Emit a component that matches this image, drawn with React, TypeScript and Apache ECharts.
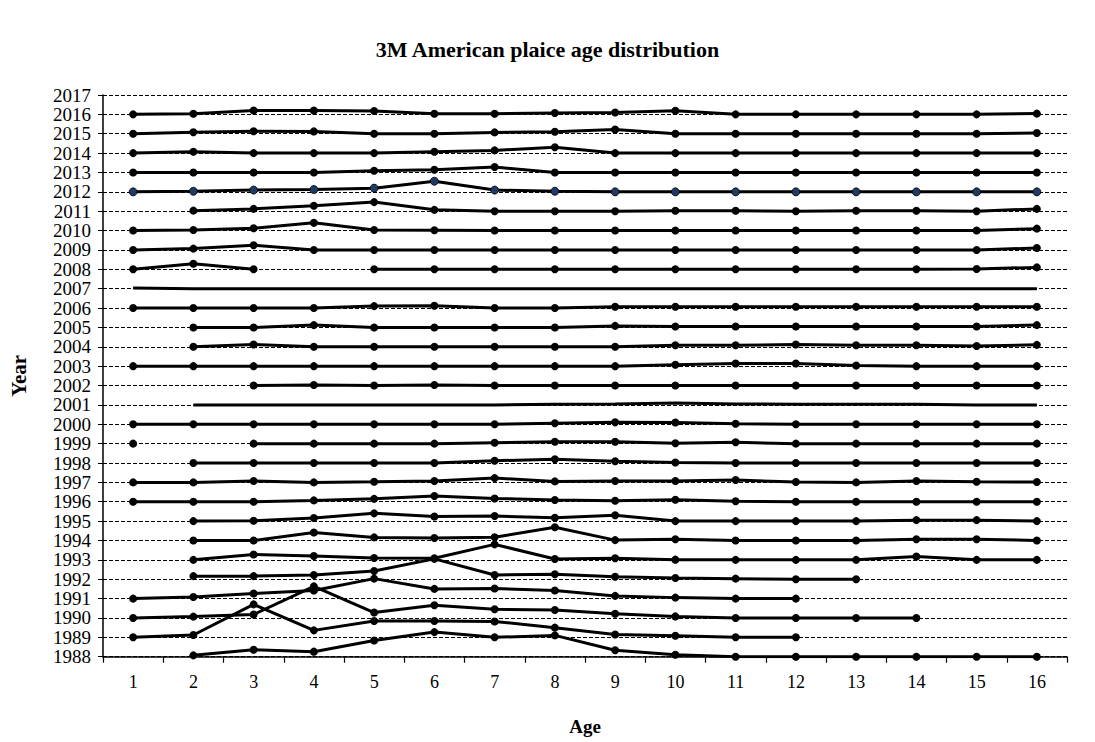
import React, { useEffect, useRef } from "react";
import * as echarts from "echarts";

const ages = ["1", "2", "3", "4", "5", "6", "7", "8", "9", "10", "11", "12", "13", "14", "15", "16"];
const yearTicks = [1988, 2017];

// plotted values (year + offset); null = no data
const y2016 = [2016, 2016.03, 2016.2, 2016.2, 2016.17, 2016.03, 2016.03, 2016.07, 2016.1, 2016.19, 2016, 2016, 2016, 2016, 2016, 2016.04];
const y2015 = [2015, 2015.08, 2015.13, 2015.12, 2015, 2015, 2015.07, 2015.1, 2015.22, 2015, 2015, 2015, 2015, 2015, 2015, 2015.04];
const y2014 = [2014, 2014.07, 2014, 2014, 2014, 2014.07, 2014.14, 2014.3, 2014, 2014, 2014, 2014, 2014, 2014, 2014, 2014];
const y2013 = [2013, 2013, 2013, 2013, 2013.09, 2013.14, 2013.28, 2013, 2013, 2013, 2013, 2013, 2013, 2013, 2013, 2013];
const y2012 = [2012, 2012.03, 2012.09, 2012.12, 2012.19, 2012.55, 2012.09, 2012.03, 2012, 2012, 2012, 2012, 2012, 2012, 2012, 2012];
const y2011 = [null, 2011.03, 2011.12, 2011.28, 2011.47, 2011.07, 2011, 2011, 2011, 2011.02, 2011.02, 2011, 2011.02, 2011.02, 2011, 2011.12];
const y2010 = [2010, 2010.03, 2010.12, 2010.4, 2010.03, 2010.02, 2010, 2010, 2010, 2010, 2010, 2010, 2010, 2010, 2010, 2010.1];
const y2009 = [2009, 2009.07, 2009.24, 2009, 2009, 2009, 2009, 2009, 2009, 2009, 2009, 2009, 2009, 2009, 2009, 2009.1];
const y2008 = [2008, 2008.29, 2008, null, 2008, 2008, 2008, 2008, 2008, 2008, 2008, 2008, 2008, 2008, 2008.02, 2008.1];
const y2007 = [2007.03, 2007, 2007, 2007, 2007, 2007, 2007, 2007, 2007, 2007, 2007, 2007, 2007, 2007, 2007, 2007];
const y2006 = [2006, 2006, 2006, 2006, 2006.1, 2006.12, 2006, 2006, 2006.07, 2006.07, 2006.07, 2006.07, 2006.07, 2006.07, 2006.07, 2006.07];
const y2005 = [null, 2005, 2005, 2005.12, 2005, 2005, 2005, 2005, 2005.08, 2005.05, 2005.05, 2005.05, 2005.05, 2005.05, 2005.05, 2005.12];
const y2004 = [null, 2004, 2004.12, 2004, 2004, 2004, 2004, 2004, 2004, 2004.08, 2004.08, 2004.12, 2004.08, 2004.08, 2004.04, 2004.1];
const y2003 = [2003, 2003, 2003, 2003, 2003, 2003, 2003, 2003, 2003, 2003.07, 2003.14, 2003.14, 2003.03, 2003, 2003, 2003];
const y2002 = [null, null, 2002, 2002.03, 2002, 2002.03, 2002, 2002, 2002, 2002, 2002, 2002, 2002, 2002, 2002, 2002];
const y2001 = [null, 2001, 2001, 2001, 2001, 2001, 2001, 2001.03, 2001.05, 2001.1, 2001.05, 2001.03, 2001.03, 2001.03, 2001, 2001];
const y2000 = [2000, 2000, 2000, 2000, 2000, 2000, 2000, 2000.05, 2000.1, 2000.09, 2000.03, 2000, 2000, 2000, 2000, 2000];
const y1999 = [1999, null, 1999, 1999, 1999, 1999, 1999.05, 1999.1, 1999.1, 1999.02, 1999.07, 1999, 1999, 1999, 1999, 1999];
const y1998 = [null, 1998, 1998, 1998, 1998, 1998, 1998.12, 1998.19, 1998.09, 1998.03, 1998, 1998, 1998, 1998, 1998, 1998];
const y1997 = [1997, 1997, 1997.07, 1997, 1997.03, 1997.07, 1997.22, 1997.05, 1997.07, 1997.07, 1997.12, 1997.02, 1997, 1997.07, 1997.03, 1997.02];
const y1996 = [1996, 1996, 1996, 1996.07, 1996.15, 1996.3, 1996.17, 1996.09, 1996.05, 1996.1, 1996.03, 1996, 1996, 1996, 1996, 1996];
const y1995 = [null, 1995, 1995.02, 1995.16, 1995.4, 1995.24, 1995.26, 1995.17, 1995.3, 1995, 1995, 1995, 1995, 1995.05, 1995.05, 1995];
const y1994 = [null, 1994, 1994, 1994.41, 1994.16, 1994.13, 1994.17, 1994.68, 1994.02, 1994.06, 1994, 1994, 1994, 1994.06, 1994.06, 1994];
const y1993 = [null, 1993, 1993.28, 1993.2, 1993.1, 1993.08, 1993.8, 1993.04, 1993.08, 1993.01, 1993, 1993, 1993, 1993.17, 1993, 1993];
const y1992 = [null, 1992.16, 1992.16, 1992.22, 1992.42, 1993.05, 1992.22, 1992.26, 1992.13, 1992.06, 1992.03, 1992, 1992, null, null, null];
const y1991 = [1991, 1991.08, 1991.26, 1991.42, 1992.03, 1991.5, 1991.52, 1991.42, 1991.14, 1991.05, 1991, 1991, null, null, null, null];
const y1990 = [1990, 1990.07, 1990.18, 1991.63, 1990.28, 1990.66, 1990.45, 1990.41, 1990.22, 1990.08, 1990, 1990, 1990, 1990, null, null];
const y1989 = [1989, 1989.12, 1990.7, 1989.36, 1989.84, 1989.84, 1989.82, 1989.5, 1989.15, 1989.08, 1989, 1989, null, null, null, null];
const y1988 = [null, 1988.07, 1988.36, 1988.26, 1988.84, 1989.27, 1989, 1989.1, 1988.33, 1988.1, 1988, 1988, 1988, 1988, 1988, 1988];

const seriesByYear: [string, (number | null)[]][] = [
  ["2016", y2016], ["2015", y2015], ["2014", y2014], ["2013", y2013], ["2012", y2012],
  ["2011", y2011], ["2010", y2010], ["2009", y2009], ["2008", y2008], ["2007", y2007],
  ["2006", y2006], ["2005", y2005], ["2004", y2004], ["2003", y2003], ["2002", y2002],
  ["2001", y2001], ["2000", y2000], ["1999", y1999], ["1998", y1998], ["1997", y1997],
  ["1996", y1996], ["1995", y1995], ["1994", y1994], ["1993", y1993], ["1992", y1992],
  ["1991", y1991], ["1990", y1990], ["1989", y1989], ["1988", y1988],
];
const noMarkerYears = ["2007", "2001"];

const FONT = "Liberation Serif";

export default function App() {
  const ref = useRef<HTMLDivElement>(null);
  useEffect(() => {
    const chart = echarts.init(ref.current!, null, { renderer: "svg" });
    const series = seriesByYear.map(([name, data]) => {
      const plain = noMarkerYears.includes(name);
      const blue = name === "2012";
      return {
        name,
        type: "line",
        data,
        connectNulls: false,
        showSymbol: !plain,
        symbol: plain ? "none" : "circle",
        symbolSize: 8,
        lineStyle: { color: "#000", width: 3 },
        itemStyle: blue
          ? { color: "#1F3A64", borderColor: "#000", borderWidth: 0.8 }
          : { color: "#000" },
        z: 3,
      };
    });
    chart.setOption({
      animation: false,
      backgroundColor: "#fff",
      textStyle: { fontFamily: FONT },
      title: {
        text: "3M American plaice age distribution",
        left: "center",
        top: 33,
        textStyle: { fontFamily: FONT, fontWeight: "bold", fontSize: 22, color: "#000" },
      },
      grid: { left: 98, right: 28, top: 95, bottom: 85.3 },
      xAxis: {
        type: "category",
        data: ages,
        boundaryGap: true,
        name: "Age",
        nameLocation: "middle",
        nameGap: 60,
        nameTextStyle: { fontFamily: FONT, fontWeight: "bold", fontSize: 19, color: "#000" },
        axisLine: { lineStyle: { color: "#000", width: 1.5 } },
        axisTick: { show: true, length: 6, lineStyle: { color: "#000", width: 1.2 } },
        axisLabel: { color: "#000", fontSize: 18, fontFamily: FONT, margin: 16 },
        splitLine: { show: false },
      },
      yAxis: {
        type: "value",
        min: yearTicks[0],
        max: yearTicks[1],
        interval: 1,
        name: "Year",
        nameLocation: "middle",
        nameRotate: 90,
        nameGap: 74,
        nameTextStyle: { fontFamily: FONT, fontWeight: "bold", fontSize: 21, color: "#000" },
        axisLine: { show: true, lineStyle: { color: "#000", width: 1.5 } },
        axisTick: { show: true, length: 5, lineStyle: { color: "#000", width: 1 } },
        axisLabel: {
          color: "#000",
          fontSize: 19,
          lineHeight: 19,
          fontFamily: FONT,
          margin: 12,
          showMinLabel: true,
          showMaxLabel: true,
          formatter: (v: number) => String(v),
        },
        splitLine: { show: true, lineStyle: { color: "#000", width: 1, type: [4, 2] } },
      },
      series,
    });
    return () => chart.dispose();
  }, []);
  return (
    <div
      ref={ref}
      style={{ position: "absolute", left: 0, top: 0, width: 1095, height: 742, background: "#fff" }}
    />
  );
}
